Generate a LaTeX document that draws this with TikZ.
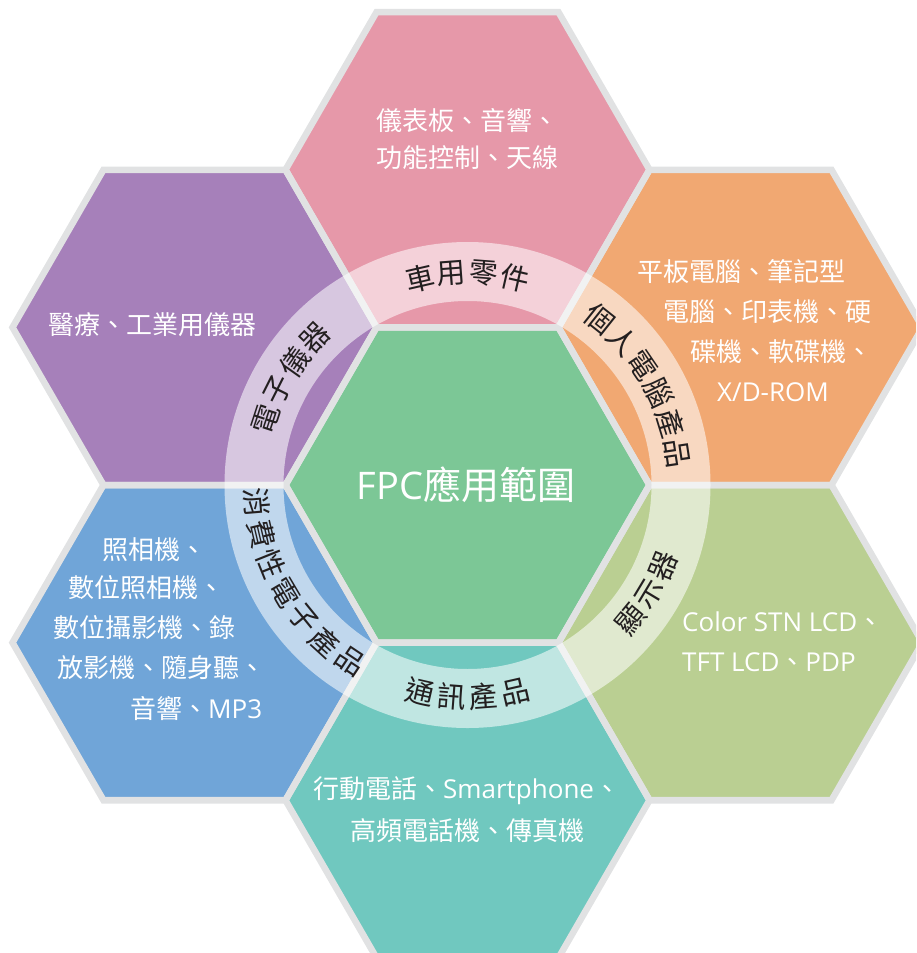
\documentclass[tikz,border=0pt]{standalone}
\usepackage{fontspec}
\setmainfont{Noto Sans CJK TC}
\newfontfamily\latf{Open Sans}
\usetikzlibrary{calc}
\definecolor{cpink}{HTML}{E698A9}
\definecolor{cpurple}{HTML}{A680BA}
\definecolor{corange}{HTML}{F1A872}
\definecolor{cgreen}{HTML}{7CC796}
\definecolor{cblue}{HTML}{70A5D8}
\definecolor{cteal}{HTML}{70C8BF}
\definecolor{clime}{HTML}{BACF92}
\definecolor{cborder}{HTML}{E1E2E3}
\definecolor{ringtext}{HTML}{231F20}
\tikzset{
  hexline/.style={draw=cborder, line width=6.5pt, line join=miter},
  htxt/.style={text=white, font=\fontsize{26}{26}\selectfont, inner sep=0pt, anchor=west},
  hctxt/.style={text=white, font=\fontsize{26}{26}\selectfont, inner sep=0pt, anchor=center},
  bigtxt/.style={text=white, font=\fontsize{38}{38}\selectfont, inner sep=0pt, anchor=center},
  rtxt/.style={text=ringtext, font=\fontsize{29}{29}\selectfont, inner sep=0pt, anchor=center},
  ringband/.style={fill=white, fill opacity=0.56, even odd rule},
}
\newcommand\myringcw[4]{%
  \foreach \ch [count=\i from 0] in {#4} {
    \pgfmathsetmacro\ang{#2+(#3-1)/2*8.6-\i*8.6}
    \node[rtxt, rotate=\ang-90] (#1\i) at ($(ctr)+(\ang:212pt)$) {\ch};
  }}
\newcommand\myringccw[4]{%
  \foreach \ch [count=\i from 0] in {#4} {
    \pgfmathsetmacro\ang{#2-(#3-1)/2*8.6+\i*8.6}
    \node[rtxt, rotate=\ang+90] (#1\i) at ($(ctr)+(\ang:212pt)$) {\ch};
  }}
\begin{document}
\begin{tikzpicture}[x=1pt,y=-1pt]
\useasboundingbox (0,0) rectangle (916,953);
\clip (0,0) rectangle (916,953);
\coordinate (ctr) at (467.5,485);
% hexagon fills
\foreach \cx/\cy/\col in {467.5/485/cgreen, 467.5/169.76/cpink, 467.5/800.24/cteal,
  740.5/327.38/corange, 740.5/642.62/clime, 194.5/327.38/cpurple, 194.5/642.62/cblue} {
  \fill[\col, shift={(\cx,\cy)}] (182,0) -- (91,157.62) -- (-91,157.62) -- (-182,0)
     -- (-91,-157.62) -- (91,-157.62) -- cycle;
}
% hexagon outlines
\foreach \cx/\cy in {467.5/485, 467.5/169.76, 467.5/800.24,
  740.5/327.38, 740.5/642.62, 194.5/327.38, 194.5/642.62} {
  \draw[hexline, shift={(\cx,\cy)}] (182,0) -- (91,157.62) -- (-91,157.62) -- (-182,0)
     -- (-91,-157.62) -- (91,-157.62) -- cycle;
}
% translucent ring
\fill[ringband] (ctr) circle[radius=243pt] (ctr) circle[radius=184pt];
% hexagon texts
\node[hctxt] (t1) at (467.5,120) {儀表板、音響、};
\node[hctxt] (t2) at (467.5,158) {功能控制、天線};
\node[hctxt] (ul1) at (152,325) {醫療、工業用儀器};
\node[htxt] (ur1) at (637,272) {平板電腦、筆記型};
\node[htxt] (ur2) at (663,312) {電腦、印表機、硬};
\node[htxt] (ur3) at (690,352) {碟機、軟碟機、};
\node[htxt] (ur4) at (717,392) {\latf X/D-ROM};
\node[bigtxt] (c1) at (466,485) {{\latf FPC}應用範圍};
\node[htxt] (ll1) at (102,550) {照相機、};
\node[htxt] (ll2) at (68,588) {數位照相機、};
\node[htxt] (ll3) at (53,628) {數位攝影機、錄};
\node[htxt] (ll4) at (57,668) {放影機、隨身聽、};
\node[htxt] (ll5) at (130,708) {音響、{\latf MP3}};
\node[htxt] (lr1) at (682,622) {{\latf Color STN LCD}、};
\node[htxt] (lr2) at (682,662) {{\latf TFT LCD}、{\latf PDP}};
\node[htxt] (b1) at (313,791) {行動電話、{\latf Smartphone}、};
\node[htxt] (b2) at (350,831) {高頻電話機、傳真機};
% ring labels
\myringcw{ra}{90}{4}{車,用,零,件}
\myringcw{rb}{30}{6}{個,人,電,腦,產,品}
\myringcw{rc}{149}{4}{電,子,儀,器}
\myringccw{rd}{-31}{3}{顯,示,器}
\myringccw{re}{-90}{4}{通,訊,產,品}
\myringccw{rf}{210.5}{7}{消,費,性,電,子,產,品}
\end{tikzpicture}
\end{document}
